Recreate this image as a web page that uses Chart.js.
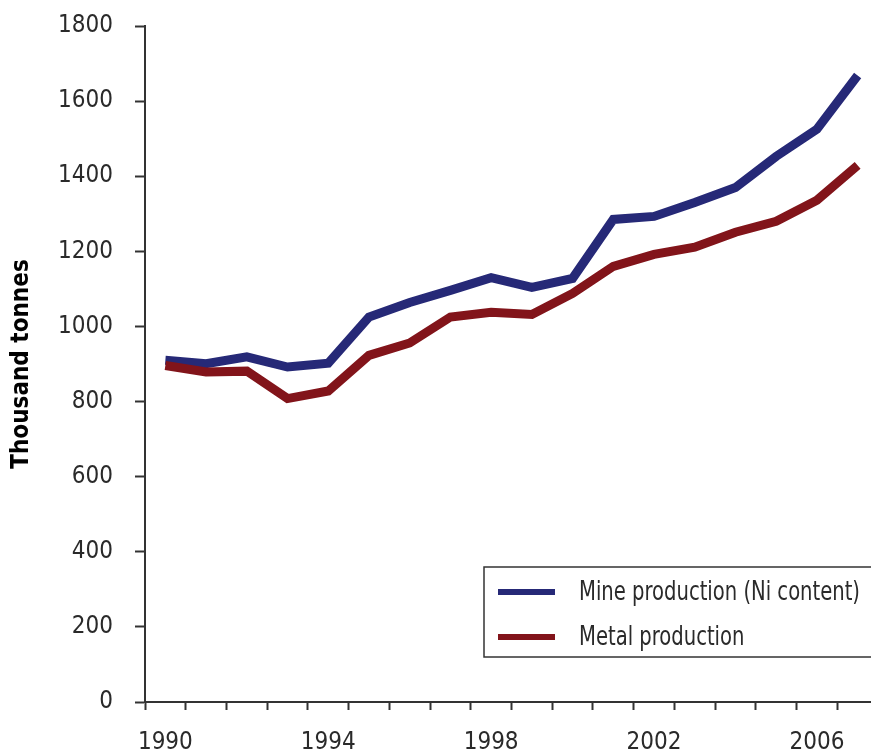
<!DOCTYPE html>
<html>
<head>
<meta charset="utf-8">
<script src="https://cdn.jsdelivr.net/npm/chart.js@4/dist/chart.umd.min.js"></script>
<style>
  html, body { margin: 0; padding: 0; background: #fff; overflow: hidden; }
  #wrap { width: 871px; height: 753px; overflow: hidden; }
  canvas { display: block; }
</style>
</head>
<body>
<div id="wrap"><canvas id="chart" width="878" height="753" style="width:878px;height:753px"></canvas></div>
<script>
// ---------- Data ----------
const years = ["1990", "1991", "1992", "1993", "1994", "1995", "1996", "1997", "1998",
  "1999", "2000", "2001", "2002", "2003", "2004", "2005", "2006", "2007"];
const mineProduction = [910, 901, 919, 892, 902, 1025, 1064, 1096, 1130, 1104, 1128,
  1285, 1293, 1330, 1370, 1453, 1525, 1668];
const metalProduction = [896, 879, 881, 808, 828, 923, 956, 1025, 1038, 1032, 1088,
  1160, 1192, 1211, 1251, 1280, 1336, 1429];
const seriesNames = ["Mine production (Ni content)", "Metal production"];
const yTitle = "Thousand tonnes";

const FONT = "'DejaVu Sans Condensed', 'Liberation Sans', sans-serif";
const AXIS = "#333333";
const TEXT = "#2a2a2a";
const BLUE = "#262977";
const RED = "#82141a";

// ---------- Legend (boxed, inside plot) ----------
const boxLegend = {
  id: "boxLegend",
  afterDraw(chart) {
    const ctx = chart.ctx;
    const left = 484, top = 567, bottom = 657, right = chart.chartArea.right - 2;
    ctx.save();
    ctx.fillStyle = "#fff";
    ctx.fillRect(left, top, right - left, bottom - top);
    ctx.strokeStyle = AXIS;
    ctx.lineWidth = 1.5;
    ctx.strokeRect(left, top, right - left, bottom - top);
    ctx.font = "26px " + FONT;
    ctx.textBaseline = "middle";
    // the original uses a narrow face: squeeze text to its width
    const squeeze = 281 / ctx.measureText(chart.data.datasets[0].label).width;
    const rows = [592, 637];
    chart.data.datasets.forEach((ds, i) => {
      ctx.fillStyle = ds.borderColor;
      ctx.fillRect(498, rows[i] - 3, 57, 6);
      ctx.save();
      ctx.translate(579, rows[i] + 1);
      ctx.scale(squeeze, 1);
      ctx.fillStyle = TEXT;
      ctx.fillText(ds.label, 0, 0);
      ctx.restore();
    });
    ctx.restore();
  }
};

// ---------- Chart ----------
function initChart() {
  const ctx = document.getElementById("chart").getContext("2d");
  new Chart(ctx, {
    type: "line",
    data: {
      labels: years,
      datasets: [
        {
          label: seriesNames[0],
          data: mineProduction,
          borderColor: BLUE,
          borderWidth: 9,
          pointRadius: 0,
          tension: 0,
          order: 2
        },
        {
          label: seriesNames[1],
          data: metalProduction,
          borderColor: RED,
          borderWidth: 9,
          pointRadius: 0,
          tension: 0,
          order: 1
        }
      ]
    },
    options: {
      responsive: false,
      animation: false,
      devicePixelRatio: 1,
      layout: { padding: { top: 26, right: 0, left: 0, bottom: 0 } },
      plugins: {
        legend: { display: false },
        tooltip: { enabled: false }
      },
      scales: {
        x: {
          type: "category",
          offset: true,
          grid: {
            offset: true,
            drawOnChartArea: false,
            drawTicks: true,
            tickLength: 8,
            tickWidth: 2,
            tickColor: AXIS
          },
          border: { color: AXIS, width: 2 },
          ticks: {
            autoSkip: false,
            maxRotation: 0,
            padding: 18,
            color: TEXT,
            font: { family: FONT, size: 24 },
            callback: (v, i) => (i % 4 === 0 ? years[i] : "")
          },
          afterFit: (scale) => { scale.height = 51; }
        },
        y: {
          min: 0,
          max: 1800,
          ticks: {
            stepSize: 200,
            padding: 22,
            color: TEXT,
            font: { family: FONT, size: 24 },
            callback: (v) => String(v)
          },
          grid: {
            drawOnChartArea: false,
            drawTicks: true,
            tickLength: 10,
            tickWidth: 2,
            tickColor: AXIS
          },
          border: { color: AXIS, width: 2 },
          title: {
            display: true,
            text: yTitle,
            color: "#000",
            font: { family: FONT, size: 24, weight: "bold" },
            padding: { top: 7, bottom: 0 }
          },
          afterFit: (scale) => {
            scale.width = 145;
            scale.paddingTop = 0;
            scale.paddingBottom = 0;
          }
        }
      }
    },
    plugins: [boxLegend]
  });
}

window.addEventListener("load", initChart);
</script>
</body>
</html>
